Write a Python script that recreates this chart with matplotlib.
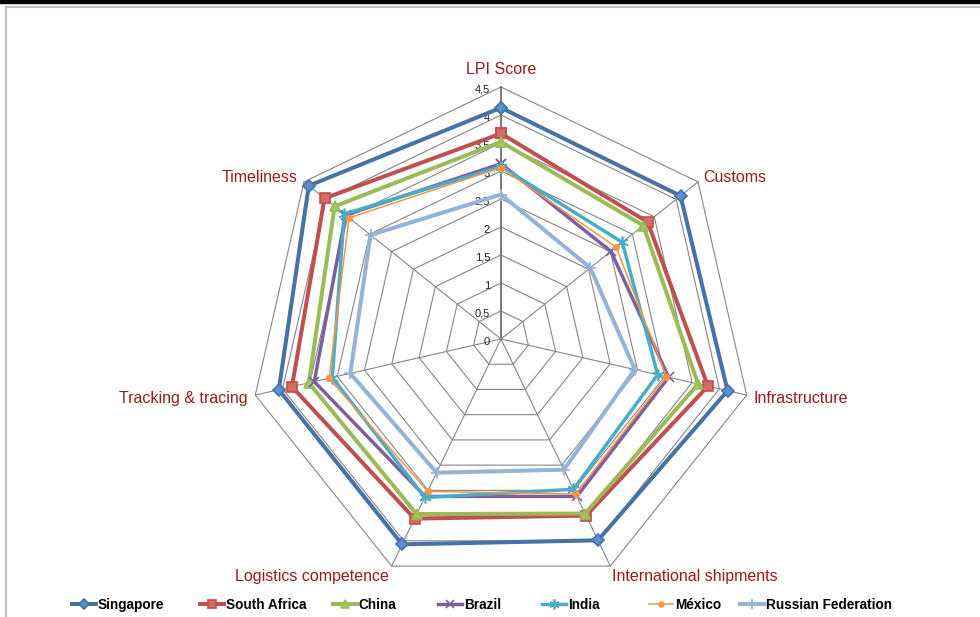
import numpy as np
import matplotlib
matplotlib.use('Agg')
import matplotlib.pyplot as plt
from matplotlib.lines import Line2D
from matplotlib.patches import Rectangle

# Datos (LPI 2012)
categorias = ['LPI Score', 'Customs', 'Infrastructure', 'International shipments',
              'Logistics competence', 'Tracking & tracing', 'Timeliness']
paises = ['Singapore', 'South Africa', 'China', 'Brazil', 'India', 'México', 'Russian Federation']
singapore = [4.13, 4.10, 4.15, 3.99, 4.07, 4.07, 4.39]
south_africa = [3.67, 3.35, 3.79, 3.50, 3.56, 3.83, 4.03]
china = [3.52, 3.25, 3.61, 3.46, 3.47, 3.52, 3.80]
brazil = [3.13, 2.51, 3.07, 3.12, 3.12, 3.42, 3.55]
india = [3.08, 2.77, 2.87, 2.98, 3.14, 3.09, 3.58]
mexico = [3.06, 2.63, 3.03, 3.07, 3.02, 3.15, 3.47]
russia = [2.58, 2.04, 2.45, 2.59, 2.65, 2.76, 2.98]
niveles = [0, 0.5, 1, 1.5, 2, 2.5, 3, 3.5, 4, 4.5]
etiquetas_niveles = ['0', '0,5', '1', '1,5', '2', '2,5', '3', '3,5', '4', '4,5']

series = [singapore, south_africa, china, brazil, india, mexico, russia]

# Estilos de cada serie
colores = ['#4572A7', '#C0504D', '#9BBB59', '#7D5FA0', '#4BACC6', '#F79646', '#95B3D7']
caras = ['#5B8FD0', '#D86A66', '#9BC95A', '#8064A2', '#4BACC6', '#F79646', '#95B3D7']
marcadores = ['D', 's', '^', 'x', (6, 2, 0), 'o', '+']
tam_marcador = [6.5, 7.5, 7.5, 7.5, 8.5, 4, 8.5]
grosores = [2.9, 2.9, 2.9, 2.5, 2.5, 1.1, 2.9]

W, H = 980, 617
fig = plt.figure(figsize=(W / 100, H / 100), dpi=100)

# Marco del gráfico
fig.add_artist(Rectangle((0, 1 - 3 / H), 1, 3 / H, transform=fig.transFigure, color='black'))
fig.add_artist(Line2D([6 / W, 1], [1 - 7 / H, 1 - 7 / H], transform=fig.transFigure,
                      color='#BEBEBE', lw=1.5))
fig.add_artist(Line2D([6 / W, 6 / W], [0, 1 - 7 / H], transform=fig.transFigure,
                      color='#BEBEBE', lw=1.5))

# Ejes polares (centro en 501,339 px, radio 252 px)
cx, cy, rad = 501, 339, 252
ax = fig.add_axes([(cx - rad) / W, (H - cy - rad) / H, 2 * rad / W, 2 * rad / H],
                  projection='polar')
ax.set_theta_offset(np.pi / 2)
ax.set_theta_direction(-1)
ax.set_ylim(0, 4.5)
ax.set_axis_off()

n = len(categorias)
angulos = np.linspace(0, 2 * np.pi, n, endpoint=False)
ang_cerrado = np.append(angulos, angulos[0])

# Rejilla heptagonal
for r in niveles[1:]:
    ax.plot(ang_cerrado, [r] * (n + 1), color='#868686', lw=0.8, zorder=1, clip_on=False)
for i, a in enumerate(angulos):
    ax.plot([a, a], [0, 4.5], color='#6E6E6E' if i == 0 else '#868686',
            lw=1.3 if i == 0 else 0.8, zorder=1, clip_on=False)

# Etiquetas del eje de valores
for r, txt in zip(niveles, etiquetas_niveles):
    ax.annotate(txt, xy=(0, r), xytext=(-11, -3), textcoords='offset pixels',
                ha='right', va='center', fontsize=8, family='Liberation Sans', color='#222222')

# Etiquetas de las categorías
desplaz = [(0, 17, 'center'), (5, 4, 'left'), (7, -3, 'left'), (2, -10, 'left'),
           (-3, -10, 'right'), (-8, -3, 'right'), (-6, 4, 'right')]
for a, cat, (dx, dy, ha) in zip(angulos, categorias, desplaz):
    ax.annotate(cat, xy=(a, 4.5), xytext=(dx, dy), textcoords='offset pixels',
                ha=ha, va='center', fontsize=11.5, family='Liberation Sans', color='#981B1E')

# Series
lineas = []
for vals, col, cara, mk, ms, lw in zip(series, colores, caras, marcadores, tam_marcador, grosores):
    v = vals + vals[:1]
    ln, = ax.plot(ang_cerrado, v, color=col, lw=lw, marker=mk, markersize=ms,
                  markerfacecolor=cara, markeredgecolor=col, markeredgewidth=1.2,
                  zorder=3, clip_on=False)
    lineas.append(ln)

# Leyenda: una entrada por serie en su posición
x_leyenda = [72, 200, 333, 438, 542, 649, 740]
for ln, nombre, x in zip(lineas, paises, x_leyenda):
    fig.legend(handles=[ln], labels=[nombre], loc='center left',
               bbox_to_anchor=(x / W, (H - 605) / H), frameon=False, borderpad=0,
               borderaxespad=0, handlelength=1.75, handletextpad=0.15, numpoints=1,
               markerscale=0.85,
               prop={'family': 'Liberation Sans', 'weight': 'bold', 'size': 9.8})

fig.savefig('out.png', dpi=100)
